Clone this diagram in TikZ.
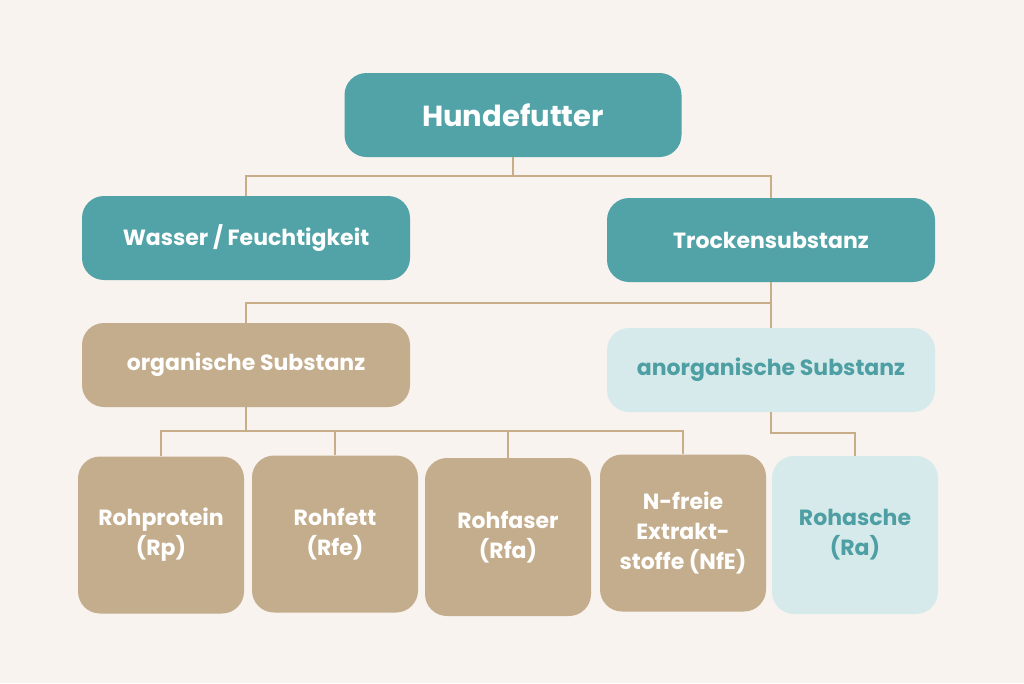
\documentclass[tikz,border=0pt]{standalone}
\usepackage{fontspec}
\setmainfont{Poppins}
\definecolor{bg}{HTML}{F8F3EF}
\definecolor{teal}{HTML}{52A3A8}
\definecolor{tan}{HTML}{C4AD8C}
\definecolor{lblue}{HTML}{D7EAEB}
\definecolor{tealtxt}{HTML}{4E9FA3}
\definecolor{ln}{HTML}{C8AE88}
\begin{document}
\begin{tikzpicture}[x=1pt,y=-1pt,
 box/.style={rounded corners=22pt,align=center,font=\fontsize{22}{30}\selectfont\bfseries,inner sep=0pt},
 tb/.style={box,fill=teal,text=white},
 nb/.style={box,fill=tan,text=white},
 ab/.style={box,fill=lblue,text=tealtxt},
 con/.style={draw=ln,line width=2.5pt}]
\fill[bg] (0,0) rectangle (1024,683);
\useasboundingbox (0,0) rectangle (1024,683);
\node[tb,minimum width=337pt,minimum height=84pt,font=\fontsize{29}{34}\selectfont\bfseries] (h) at (513,115) {Hundefutter};
\node[tb,minimum width=328pt,minimum height=84pt] (w) at (246,238) {Wasser / Feuchtigkeit};
\node[tb,minimum width=328pt,minimum height=84pt] (t) at (771,240) {Trockensubstanz};
\node[nb,minimum width=328pt,minimum height=84pt] (o) at (246,365) {organische Substanz};
\node[ab,minimum width=328pt,minimum height=84pt] (a) at (771,370) {anorganische Substanz};
\node[nb,minimum width=166pt,minimum height=157pt] (p) at (161,535) {Rohprotein\\(Rp)};
\node[nb,minimum width=166pt,minimum height=157pt] (f) at (335,534) {Rohfett\\(Rfe)};
\node[nb,minimum width=166pt,minimum height=158pt] (fa) at (508,537) {Rohfaser\\(Rfa)};
\node[nb,minimum width=166pt,minimum height=157pt] (n) at (683,533) {N-freie\\Extrakt-\\stoffe (NfE)};
\node[ab,minimum width=166pt,minimum height=158pt] (r) at (855,535) {Rohasche\\(Ra)};
\begin{scope}[on background layer/.style={}]
\draw[con] (h.south) -- (513,176) coordinate (c1);
\draw[con] (w.north) |- (c1) -| (t.north);
\draw[con] (t.south) -- (771,303) coordinate (c2);
\draw[con] (o.north) |- (c2) -- (a.north);
\draw[con] (o.south) -- (246,431) coordinate (c3);
\draw[con] (p.north) |- (c3) -| (n.north);
\draw[con] (f.north) -- (f.north |- c3);
\draw[con] (fa.north) -- (fa.north |- c3);
\draw[con] (a.south) -- (771,433) -| (r.north);
\end{scope}
\end{tikzpicture}
\end{document}
